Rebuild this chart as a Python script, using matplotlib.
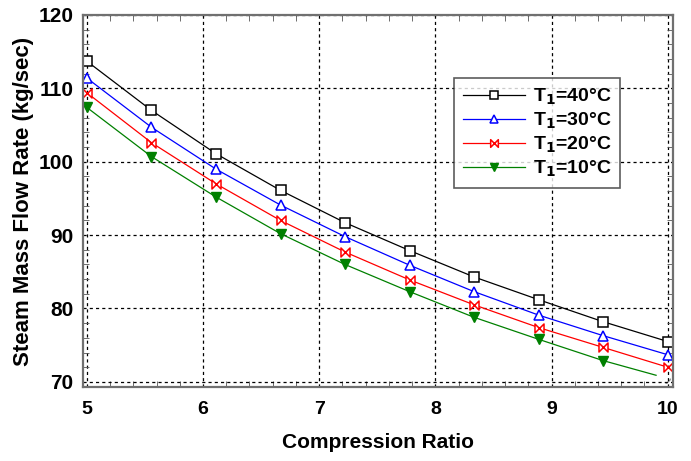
import matplotlib
matplotlib.use("Agg")
import matplotlib.pyplot as plt
from matplotlib.path import Path
from matplotlib.ticker import MultipleLocator

# data
cr = [5.0, 5.556, 6.111, 6.667, 7.222, 7.778, 8.333, 8.889, 9.444, 10.0]
t40 = [113.7, 107.0, 101.1, 96.1, 91.7, 87.9, 84.3, 81.2, 78.2, 75.5]
t30 = [111.4, 104.7, 99.0, 94.1, 89.8, 85.9, 82.3, 79.1, 76.3, 73.7]
t20 = [109.4, 102.6, 97.0, 92.0, 87.7, 83.9, 80.5, 77.4, 74.7, 72.0]
# the 10C curve stops short of 10
cr10 = [5.0, 5.556, 6.111, 6.667, 7.222, 7.778, 8.333, 8.889, 9.444, 9.9]
t10 = [107.4, 100.7, 95.2, 90.2, 86.0, 82.3, 78.8, 75.8, 72.9, 70.9]

plt.rcParams['font.family'] = ['Liberation Sans', 'DejaVu Sans']
plt.rcParams['font.weight'] = 'bold'
plt.rcParams['mathtext.default'] = 'bf'

# bowtie marker like the red one in the reference
bowtie = Path([(-1, -1), (-1, 1), (0, 0), (-1, -1), (1, -1), (1, 1), (0, 0), (1, -1)],
              [Path.MOVETO, Path.LINETO, Path.LINETO, Path.CLOSEPOLY,
               Path.MOVETO, Path.LINETO, Path.LINETO, Path.CLOSEPOLY])

fig = plt.figure(figsize=(6.91, 4.61), dpi=100)
ax = fig.add_axes([0.120, 0.1605, 0.854, 0.807])

ax.plot(cr, t40, color='black', lw=0.9, marker='s', ms=6.5, mfc='white', mec='black', mew=1.1,
        label='T$_1$=40°C')
ax.plot(cr, t30, color='blue', lw=0.9, marker='^', ms=7, mfc='white', mec='blue', mew=1.1,
        label='T$_1$=30°C')
ax.plot(cr, t20, color='red', lw=0.9, marker=bowtie, ms=6.5, mfc='white', mec='red', mew=1.1,
        label='T$_1$=20°C')
ax.plot(cr10, t10, color='green', lw=0.9, marker='v', ms=6.5, mfc='green', mec='green',
        markevery=list(range(9)), label='T$_1$=10°C')

ax.set_xlim(4.966, 10.046)
ax.set_ylim(69.3, 120.0)
ax.xaxis.set_major_locator(MultipleLocator(1))
ax.xaxis.set_minor_locator(MultipleLocator(0.2))
ax.yaxis.set_major_locator(MultipleLocator(10))
ax.yaxis.set_minor_locator(MultipleLocator(2))
ax.grid(True, which='major', color='black', ls=(0, (2.5, 2.5)), lw=0.9)
ax.tick_params(which='both', direction='in', top=True, right=True, color='#555555')
ax.tick_params(which='major', length=0)
ax.tick_params(which='minor', length=4)
ax.tick_params(axis='y', labelsize=15, pad=7)
ax.tick_params(axis='x', labelsize=14, pad=10)
for s in ax.spines.values():
    s.set_color('#707070')
    s.set_linewidth(1.6)

ax.set_xlabel('Compression Ratio', fontsize=15, fontweight='bold', labelpad=11)
ax.set_ylabel('Steam Mass Flow Rate (kg/sec)', fontsize=16, fontweight='bold', labelpad=3)

leg = ax.legend(loc='upper left', bbox_to_anchor=(0.629, 0.831), borderaxespad=0,
                fontsize=14, frameon=True, fancybox=False, edgecolor='#333333',
                handlelength=3.2, handletextpad=0.4, borderpad=0.45, labelspacing=0.2,
                markerscale=0.85)
leg.get_frame().set_linewidth(1.2)
for t in leg.get_texts():
    t.set_fontweight('bold')

# little hatched corner grip
ax.fill([0.977, 0.997, 0.997], [0.008, 0.008, 0.038], transform=ax.transAxes,
        facecolor='white', edgecolor='#999999', hatch='////', lw=0)

fig.savefig('out.png', dpi=100)
